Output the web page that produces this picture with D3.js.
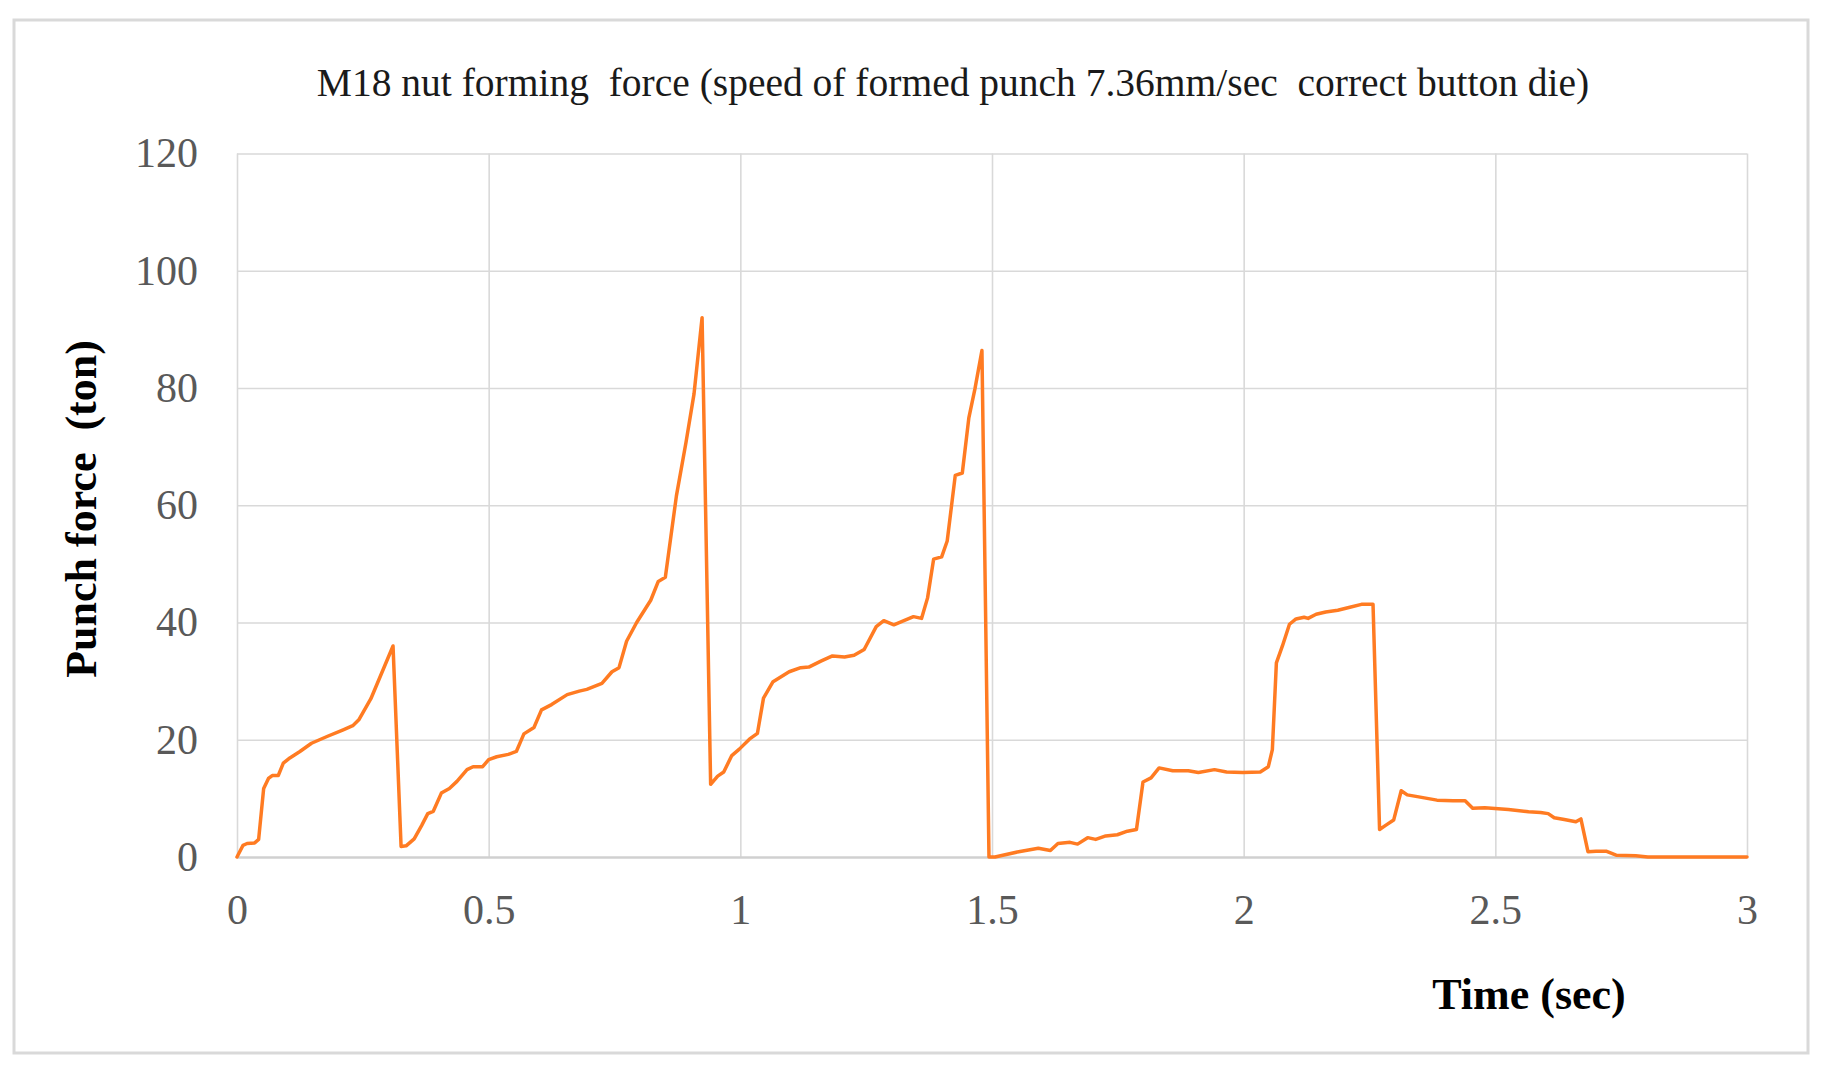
<!DOCTYPE html>
<html>
<head>
<meta charset="utf-8">
<title>M18 nut forming force</title>
<script src="https://cdn.jsdelivr.net/npm/d3@7"></script>
<style>
  html, body { margin: 0; padding: 0; background: #fff; }
  text { white-space: pre; }
</style>
</head>
<body>
<div id="diagram"></div>
<script>
// data
const timeSec = [
  0, 0.012, 0.02, 0.035, 0.043, 0.053, 0.0625, 0.07, 0.082, 0.092, 0.105, 0.125, 0.148, 0.18, 0.211, 0.23, 0.242, 0.266, 0.31,
  0.326, 0.336, 0.352, 0.367, 0.379, 0.39, 0.406, 0.422, 0.437, 0.457, 0.469, 0.488, 0.5, 0.516, 0.539, 0.555, 0.57, 0.59,
  0.605, 0.625, 0.656, 0.68, 0.695, 0.725, 0.745, 0.759, 0.774, 0.794, 0.822, 0.837, 0.851, 0.873, 0.892, 0.908, 0.924,
  0.941, 0.955, 0.967, 0.983, 0.998, 1.018, 1.034, 1.046, 1.065, 1.097, 1.12, 1.136, 1.16, 1.183, 1.207, 1.226, 1.246,
  1.27, 1.285, 1.305, 1.325, 1.344, 1.36, 1.372, 1.384, 1.4, 1.411, 1.427, 1.441, 1.454, 1.466, 1.48,
  1.494, 1.506, 1.553, 1.592, 1.616, 1.631, 1.655, 1.67, 1.69, 1.706, 1.726, 1.749, 1.769, 1.787, 1.8, 1.816, 1.832,
  1.859, 1.89, 1.91, 1.942, 1.966, 1.998, 2.033, 2.049, 2.057, 2.065, 2.077, 2.091, 2.104, 2.12, 2.128, 2.144, 2.163,
  2.187, 2.211, 2.234, 2.257, 2.27, 2.282, 2.298, 2.313, 2.325, 2.345, 2.384, 2.416, 2.44, 2.455, 2.479, 2.526, 2.566,
  2.59, 2.605, 2.617, 2.637, 2.66, 2.67, 2.684, 2.7, 2.72, 2.74, 2.779, 2.803, 3.0
];
const punchForce = [
  0, 2.0, 2.3, 2.4, 3.0, 11.7, 13.4, 13.9, 13.9, 16.0, 16.9, 18.0, 19.4, 20.6, 21.7, 22.4, 23.4, 27.0, 36.0,
  1.8, 1.9, 3.1, 5.4, 7.4, 7.8, 10.9, 11.7, 12.9, 14.9, 15.4, 15.4, 16.6, 17.1, 17.5, 18.0, 21.0, 22.1,
  25.1, 26.0, 27.7, 28.3, 28.6, 29.6, 31.6, 32.3, 36.8, 40.0, 43.8, 47.0, 47.7, 61.6, 70.7, 79.0, 92.0,
  12.4, 13.8, 14.5, 17.3, 18.4, 20.1, 21.1, 27.1, 29.9, 31.6, 32.3, 32.4, 33.4, 34.3, 34.1, 34.4, 35.4,
  39.3, 40.3, 39.6, 40.3, 41.0, 40.7, 44.2, 50.8, 51.2, 53.9, 65.1, 65.5, 74.9, 79.8, 86.4,
  0, 0, 0.9, 1.5, 1.1, 2.3, 2.5, 2.2, 3.3, 3.0, 3.6, 3.8, 4.4, 4.7, 12.8, 13.5, 15.2,
  14.7, 14.7, 14.4, 14.9, 14.5, 14.4, 14.5, 15.4, 18.3, 33.1, 36.0, 39.7, 40.6, 40.9, 40.7, 41.4, 41.8,
  42.1, 42.6, 43.1, 43.1, 4.7, 5.4, 6.3, 11.3, 10.6, 10.3, 9.7, 9.6, 9.6, 8.3, 8.4, 8.1, 7.7,
  7.6, 7.4, 6.7, 6.4, 6.0, 6.5, 0.9, 1.0, 1.0, 0.3, 0.2, 0, 0
];
const xTickValues = [0, 0.5, 1, 1.5, 2, 2.5, 3];
const yTickValues = [0, 20, 40, 60, 80, 100, 120];
const chartTitle = 'M18 nut forming  force (speed of formed punch 7.36mm/sec  correct button die)';
const xTitle = 'Time (sec)';
const yTitle = 'Punch force  (ton)';

!(function () {
  'use strict'
  // - - - - - - - - - -
  // declaration
  let
    canvas = {
      width: 1823,
      height: 1077,
      plot: { left: 237, right: 1747, top: 153.5, bottom: 857 }
    },
    points = timeSec.map(function (t, i) { return [t, punchForce[i]]; }),
    svg = undefined,
    xScale = undefined,
    yScale = undefined,
    xAxis = undefined,
    yAxis = undefined,
    line = undefined;

  // process
  svg = d3.select('#diagram')
    .append('svg')
    .attr('width', canvas.width)
    .attr('height', canvas.height);

  // outer frame
  svg.append('rect')
    .attr('x', 14).attr('y', 20)
    .attr('width', 1794).attr('height', 1033)
    .attr('fill', '#fff')
    .attr('stroke', '#d9d9d9')
    .attr('stroke-width', 3);

  xScale = d3.scaleLinear()
    .domain([0, 3])
    .range([canvas.plot.left, canvas.plot.right]);

  yScale = d3.scaleLinear()
    .domain([0, 120])
    .range([canvas.plot.bottom, canvas.plot.top]);

  xAxis = d3.axisBottom(xScale)
    .tickValues(xTickValues)
    .tickFormat(d3.format('~g'))
    .tickSize(-(canvas.plot.bottom - canvas.plot.top))
    .tickPadding(37);

  yAxis = d3.axisLeft(yScale)
    .tickValues(yTickValues)
    .tickFormat(d3.format('d'))
    .tickSize(-(canvas.plot.right - canvas.plot.left))
    .tickPadding(39);

  let gx = svg.append('g')
    .attr('transform', 'translate(0,' + canvas.plot.bottom + ')')
    .call(xAxis);

  let gy = svg.append('g')
    .attr('transform', 'translate(' + canvas.plot.left + ',0)')
    .call(yAxis);

  [gx, gy].forEach(function (g) {
    g.select('.domain').remove();
    g.selectAll('.tick line')
      .attr('stroke', '#d9d9d9')
      .attr('stroke-width', 1.6);
    g.selectAll('.tick text')
      .attr('fill', '#595959')
      .style('font-family', '"Liberation Serif", "Times New Roman", serif')
      .style('font-size', '42px');
  });

  // baseline at zero is a touch heavier
  gy.selectAll('.tick')
    .filter(function (d) { return d === 0; })
    .select('line')
    .attr('stroke', '#d0d0d0')
    .attr('stroke-width', 2.6);

  line = d3.line()
    .x(function (d) { return xScale(d[0]); })
    .y(function (d) { return yScale(d[1]); });

  svg.append('path')
    .datum(points)
    .attr('d', line)
    .attr('fill', 'none')
    .attr('stroke', '#ff7b22')
    .attr('stroke-width', 3.5)
    .attr('stroke-linejoin', 'round')
    .attr('stroke-linecap', 'round');

  // titles
  svg.append('text')
    .attr('x', 953)
    .attr('y', 96)
    .attr('text-anchor', 'middle')
    .attr('fill', '#1a1a1a')
    .style('font-family', '"Liberation Serif", "Times New Roman", serif')
    .style('font-size', '39.5px')
    .text(chartTitle);

  svg.append('text')
    .attr('x', 1529)
    .attr('y', 1009)
    .attr('text-anchor', 'middle')
    .attr('fill', '#000')
    .style('font-family', '"Liberation Serif", "Times New Roman", serif')
    .style('font-weight', 'bold')
    .style('font-size', '44px')
    .text(xTitle);

  svg.append('text')
    .attr('transform', 'translate(96,509) rotate(-90)')
    .attr('text-anchor', 'middle')
    .attr('fill', '#000')
    .style('font-family', '"Liberation Serif", "Times New Roman", serif')
    .style('font-weight', 'bold')
    .style('font-size', '44px')
    .text(yTitle);

  // - - - - - - - - - -
}())
</script>
</body>
</html>
